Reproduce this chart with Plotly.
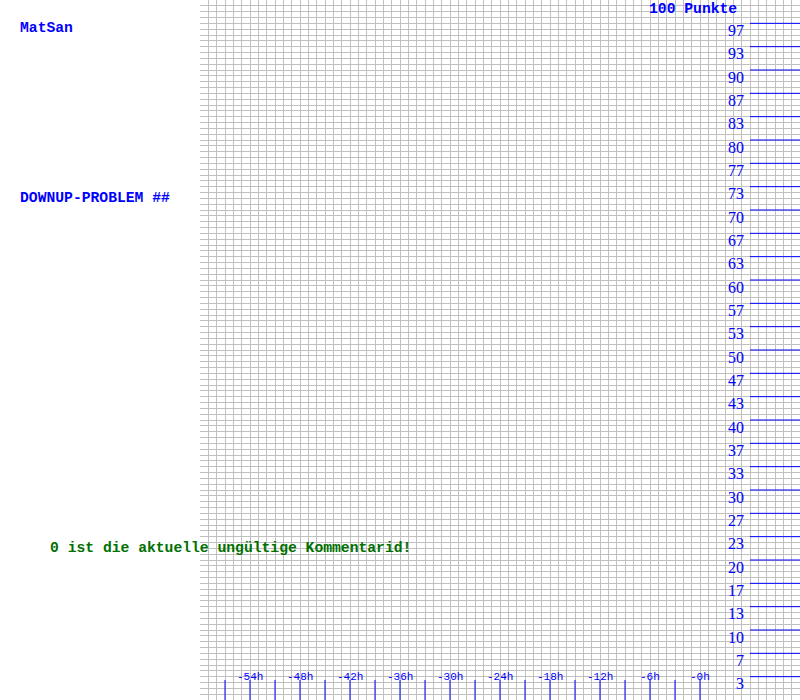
import plotly.graph_objects as go

# ---- data ----
level_values = [100 - 10 * k / 3 for k in range(1, 30)]
level_labels = ["97", "93", "90", "87", "83", "80", "77", "73", "70", "67", "63", "60",
                "57", "53", "50", "47", "43", "40", "37", "33", "30", "27", "23", "20",
                "17", "13", "10", "7", "3"]
tick_hours = list(range(-57, 1, 3))
label_hours = [-54, -48, -42, -36, -30, -24, -18, -12, -6, 0]
hour_labels = ["-54h", "-48h", "-42h", "-36h", "-30h", "-24h", "-18h", "-12h", "-6h", "-0h"]
user_name = "MatSan"
problem_title = "DOWNUP-PROBLEM ##"
comment_msg = "0 ist die aktuelle ungültige Kommentarid!"
points_title = "100 Punkte"

BLUE = "#0000ff"
GREEN = "#007000"
MONO = "Liberation Mono, DejaVu Sans Mono, monospace"
SERIF = "Liberation Serif, DejaVu Serif, serif"

fig = go.Figure()

# right-hand level lines
lx, ly = [], []
for v in level_values:
    lx += [6, 12, None]
    ly += [v, v, None]
fig.add_trace(go.Scatter(x=lx, y=ly, mode="lines", line=dict(color=BLUE, width=1),
                         hoverinfo="skip", showlegend=False))

# bottom hour tick marks
tx, ty = [], []
for h in tick_hours:
    tx += [h, h, None]
    ty += [0, 2.857, None]
fig.add_trace(go.Scatter(x=tx, y=ty, mode="lines", line=dict(color=BLUE, width=1),
                         hoverinfo="skip", showlegend=False))

annotations = []
for v, lab in zip(level_values, level_labels):
    annotations.append(dict(x=5.4, y=v - 1.03, xref="x", yref="y", text=lab,
                            showarrow=False, xanchor="right", yanchor="middle",
                            font=dict(family=SERIF, size=16, color=BLUE), borderpad=0))
for h, lab in zip(label_hours, hour_labels):
    annotations.append(dict(x=h, y=3.3, xref="x", yref="y", text=lab,
                            showarrow=False, xanchor="center", yanchor="middle",
                            font=dict(family=MONO, size=11, color=BLUE), borderpad=0))

def mono_note(text, px, py, color, anchor="middle"):
    return dict(x=px / 800, y=1 - py / 700, xref="paper", yref="paper",
                text="<b>" + text + "</b>", showarrow=False, xanchor="left",
                yanchor=anchor, font=dict(family=MONO, size=14.7, color=color),
                borderpad=0)

annotations.append(mono_note(user_name, 19, 28, BLUE))
annotations.append(mono_note(problem_title, 19, 198, BLUE))
annotations.append(mono_note(comment_msg, 49, 548, GREEN))
annotations.append(mono_note(points_title, 648, 0, BLUE, anchor="top"))

fig.update_layout(
    width=800, height=700,
    margin=dict(l=0, r=0, t=0, b=0, pad=0),
    paper_bgcolor="white", plot_bgcolor="white",
    showlegend=False,
    annotations=annotations,
    xaxis=dict(domain=[0.25, 1], range=[-60, 12], tick0=-60, dtick=1,
               showgrid=True, gridcolor="#c0c0c0", gridwidth=1,
               zeroline=False, showline=False, showticklabels=False, ticks=""),
    yaxis=dict(range=[0, 100], tick0=0, dtick=100 / 120,
               showgrid=True, gridcolor="#c0c0c0", gridwidth=1,
               zeroline=False, showline=False, showticklabels=False, ticks=""),
)

fig.write_html("out.html")
